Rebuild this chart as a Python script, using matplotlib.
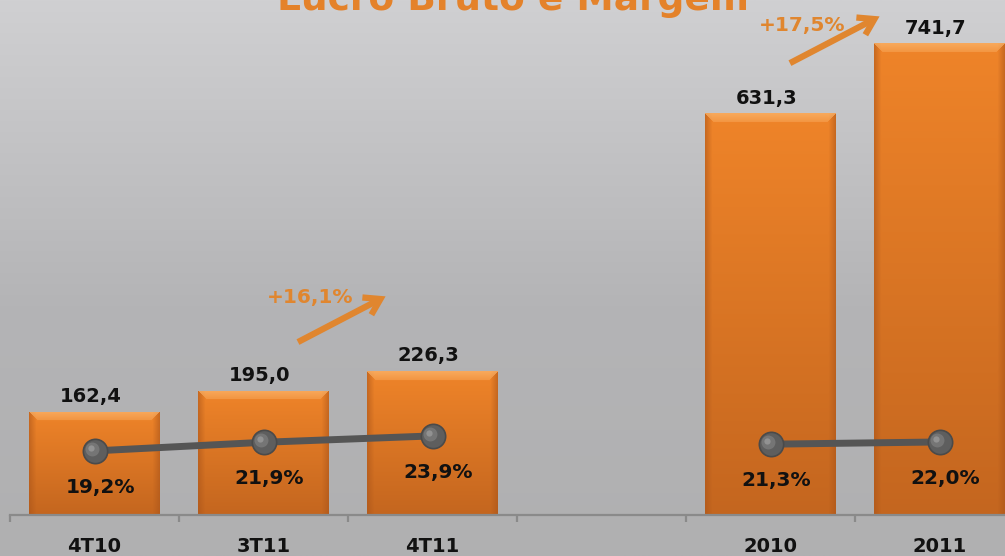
import numpy as np
import matplotlib
matplotlib.use("Agg")
import matplotlib.pyplot as plt
from matplotlib.colors import to_rgb

# ---------------- data ----------------
categories = ["4T10", "3T11", "4T11", "", "2010", "2011"]
lucro_bruto = [162.4, 195.0, 226.3, np.nan, 631.3, 741.7]
margem = [19.2, 21.9, 23.9, np.nan, 21.3, 22.0]
bar_labels = ["162,4", "195,0", "226,3", "", "631,3", "741,7"]
margem_labels = ["19,2%", "21,9%", "23,9%", "", "21,3%", "22,0%"]
growth_labels = ["+16,1%", "+17,5%"]
title = "Lucro Bruto e Margem"

W, H = 1005, 556
fig = plt.figure(figsize=(W / 100, H / 100), dpi=100)

# background gradient
bg = fig.add_axes([0, 0, 1, 1], zorder=-10)
bg.set_axis_off()
yy = np.linspace(0, 1, 300)[:, None]
top_c = np.array(to_rgb("#d0d0d2"))
mid_c = np.array(to_rgb("#b4b4b6"))
bot_c = np.array(to_rgb("#b0b0b1"))
t = np.clip(yy / 0.55, 0, 1)
grad = np.where(yy < 0.55, top_c * (1 - t) + mid_c * t,
                mid_c * (1 - (yy - 0.55) / 0.45) + bot_c * ((yy - 0.55) / 0.45))
grad = np.repeat(grad[:, None, :], 2, axis=1).reshape(300, 2, 3)
bg.imshow(grad, aspect="auto", extent=[0, 1, 0, 1], origin="upper")
bg.set_xlim(0, 1); bg.set_ylim(0, 1)

# main axes (extends slightly past the right edge like the reference)
left_px, right_px = 10, 1024
base_px, top_px = 515, 6
ax = fig.add_axes([left_px / W, (H - base_px) / H,
                   (right_px - left_px) / W, (base_px - top_px) / H])
ax.patch.set_alpha(0)
x = np.arange(len(categories))
ax.set_xlim(-0.5, len(categories) - 0.5)
ax.set_ylim(0, 800)

vals = np.array(lucro_bruto, dtype=float)
bars = ax.bar(x, np.nan_to_num(vals), width=0.77, color="#ec8026",
              edgecolor="none", zorder=2)

fig.canvas.draw()
c_top = np.array(to_rgb("#ef8429"))
c_bot = np.array(to_rgb("#c4661f"))
c_hi = np.array(to_rgb("#fbb56c"))
c_edge = np.array(to_rgb("#a9541a"))
for b, v in zip(bars, vals):
    if not np.isfinite(v) or v <= 0:
        b.set_visible(False)
        continue
    bb = b.get_window_extent()
    hp, wp = max(int(bb.height), 2), max(int(bb.width), 2)
    ty = np.linspace(0, 1, hp)[:, None, None]
    img = c_top * (1 - ty) + c_bot * ty
    img = np.repeat(img, wp, axis=1)
    # darker side edges
    xs = np.arange(wp)
    de = np.minimum(xs, wp - 1 - xs)
    ef = np.clip(1 - de / 7.0, 0, 1)[None, :, None] * 0.55
    img = img * (1 - ef) + c_edge * ef
    # top bevel highlight
    bev = 9
    ys = np.arange(hp)
    hf = np.clip(1 - ys / bev, 0, 1)[:, None, None]
    inside = ((xs[None, :] >= ys[:, None]) & (xs[None, :] <= wp - 1 - ys[:, None]))[:, :, None]
    img = np.where((ys[:, None, None] < bev) & inside,
                   img * (1 - 0.35 - 0.4 * hf) + c_hi * (0.35 + 0.4 * hf), img)
    img = np.clip(img, 0, 1)
    x0, y0 = b.get_x(), b.get_y()
    im = ax.imshow(img, extent=[x0, x0 + b.get_width(), y0, y0 + b.get_height()],
                   aspect="auto", origin="upper", zorder=2.5, interpolation="bilinear")
    im.set_clip_path(b)

# value labels above bars
for xi, v, lab in zip(x, vals, bar_labels):
    if np.isfinite(v):
        ax.annotate(lab, (xi, v), xytext=(-3, 4), textcoords="offset points",
                    ha="center", va="bottom", fontsize=14, fontweight="bold",
                    color="#111111", zorder=5)

# axis styling
for s in ["top", "right", "left"]:
    ax.spines[s].set_visible(False)
ax.spines["bottom"].set_color("#8a8a8a")
ax.spines["bottom"].set_linewidth(1.6)
ax.set_yticks([])
ax.set_xticks(x)
ax.set_xticklabels(categories, fontsize=14, fontweight="bold", color="#111111")
ax.tick_params(axis="x", which="major", length=0, pad=16)
ax.set_xticks(np.arange(-0.5, len(categories) + 0.5, 1), minor=True)
ax.tick_params(axis="x", which="minor", length=5, width=1.6, color="#8a8a8a", direction="out")

# secondary axis: margin line
ax2 = ax.twinx()
ax2.set_ylim(-0.9, 158.7)
ax2.set_yticks([])
for s in ax2.spines.values():
    s.set_visible(False)
m = np.array(margem, dtype=float)
ax2.plot(x, m, color="#555555", lw=5, zorder=3, solid_capstyle="butt")
ax2.plot(x, m, ls="none", marker="o", ms=17.5, mfc="#5e5e5e", mec="#4a4a4a", mew=1.2, zorder=4)
ax2.plot(x - 0.012, m + 0.6, ls="none", marker="o", ms=10, mfc="#7c7c7c", mec="none", zorder=4.1, alpha=0.8)
ax2.plot(x - 0.02, m + 1.0, ls="none", marker="o", ms=4.5, mfc="#9a9a9a", mec="none", zorder=4.2, alpha=0.8)
for xi, v, lab in zip(x, m, margem_labels):
    if np.isfinite(v):
        ax2.annotate(lab, (xi, v), xytext=(4, -26), textcoords="offset points",
                     ha="center", va="center", fontsize=14.5, fontweight="bold",
                     color="#111111", zorder=6)

# growth arrows (data coordinates of primary axis)
orange = "#e0862f"
arrows = [((1.204, 271.8), (1.737, 345.7), (1.275, 342.6)),
          ((4.115, 710.2), (4.660, 785.7), (4.186, 770.0))]
for (tail, head, tpos), lab in zip(arrows, growth_labels):
    ax.annotate("", xy=head, xytext=tail,
                arrowprops=dict(arrowstyle="->,head_length=1.1,head_width=0.7",
                                color=orange, lw=4.5, shrinkA=0, shrinkB=2,
                                joinstyle="miter", capstyle="butt"),
                zorder=6, annotation_clip=False)
    ax.text(tpos[0], tpos[1], lab, ha="center", va="center", fontsize=14.5,
            fontweight="bold", color=orange, zorder=6)

# title (cut off at the top as in the reference)
fig.text(513 / W, 1 - 10 / H, title, ha="center", va="baseline", fontsize=27,
         fontweight="bold", color="#e4822a")

fig.savefig("out.png", dpi=100)
